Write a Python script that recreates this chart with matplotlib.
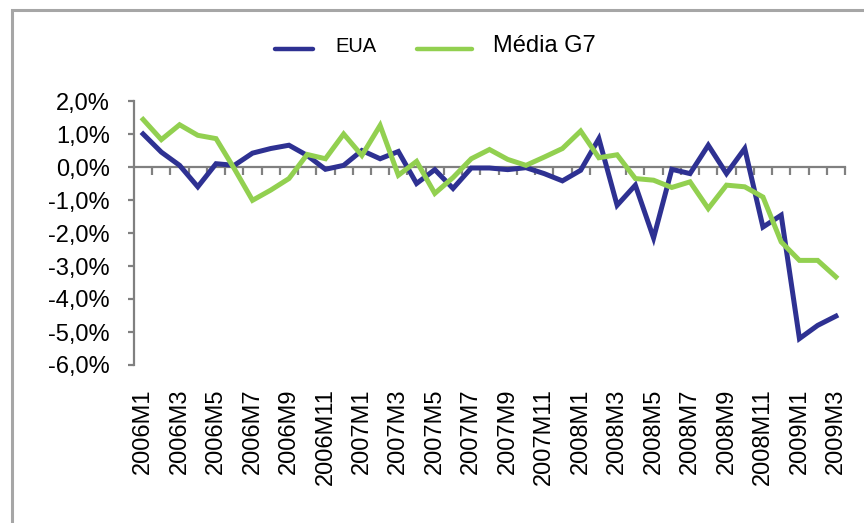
import matplotlib
matplotlib.use("Agg")
import matplotlib.pyplot as plt
from matplotlib.lines import Line2D
from matplotlib.patches import Rectangle

plt.rcParams['font.family'] = ['Liberation Sans', 'DejaVu Sans']

months = []
for y in (2006, 2007, 2008, 2009):
    for m in range(1, 13):
        months.append(f"{y}M{m}")
months = months[:39]  # 2006M1 .. 2009M3

eua = [1.00, 0.45, 0.05, -0.60, 0.10, 0.05, 0.42, 0.56, 0.66, 0.35,
       -0.07, 0.05, 0.50, 0.25, 0.47, -0.50, -0.08, -0.65, -0.03, -0.03,
       -0.08, -0.02, -0.20, -0.42, -0.10, 0.86, -1.16, -0.55, -2.15, -0.07,
       -0.20, 0.66, -0.20, 0.56, -1.82, -1.46, -5.20, -4.80, -4.52]
g7 = [1.44, 0.83, 1.28, 0.96, 0.86, -0.05, -1.01, -0.70, -0.35, 0.38,
      0.25, 1.00, 0.35, 1.26, -0.25, 0.17, -0.80, -0.32, 0.25, 0.53,
      0.23, 0.05, 0.30, 0.56, 1.09, 0.28, 0.37, -0.35, -0.40, -0.62,
      -0.45, -1.26, -0.55, -0.60, -0.91, -2.27, -2.83, -2.83, -3.33]
yticks = [-6, -5, -4, -3, -2, -1, 0, 1, 2]

W, H = 864, 523
fig = plt.figure(figsize=(W / 100, H / 100), dpi=100)

BLUE = "#2e3192"
GREEN = "#92d050"
GRAY = "#808080"

ax = fig.add_axes([134 / W, 1 - 365 / H, (845 - 134) / W, (365 - 101) / H])
x = list(range(len(months)))
ax.plot(x, eua, color=BLUE, lw=3.6, zorder=3, solid_joinstyle='miter')
ax.plot(x, g7, color=GREEN, lw=3.6, zorder=4, solid_joinstyle='miter')
ax.set_xlim(-0.5, len(months) - 0.5)
ax.set_ylim(-6, 2)

for s in ('top', 'right'):
    ax.spines[s].set_visible(False)
ax.spines['left'].set_color(GRAY)
ax.spines['left'].set_linewidth(1.6)
ax.spines['bottom'].set_position(('data', 0))
ax.spines['bottom'].set_color(GRAY)
ax.spines['bottom'].set_linewidth(1.6)

ax.set_yticks(yticks)
ax.set_yticklabels([f"{v:.1f}%".replace('.', ',') for v in yticks])
ax.tick_params(axis='y', direction='out', length=4.5, width=1.6, color=GRAY,
               labelsize=17, pad=13)
ax.set_xticks([i + 0.5 for i in x])
ax.tick_params(axis='x', direction='out', length=5.5, width=1.6, color=GRAY,
               labelbottom=False)

sec = ax.secondary_xaxis('bottom')
sec.set_xticks(x[::2])
sec.set_xticklabels(months[::2], rotation=90, fontsize=17)
sec.tick_params(length=0, pad=17)
sec.spines['bottom'].set_visible(False)

# outer frame (top and left edges visible)
fig.patches.append(Rectangle((11.5 / W, -0.1), 1.2, (1 - 10.5 / H) + 0.1,
                             transform=fig.transFigure, fill=False,
                             edgecolor="#a6a6a6", lw=2.2))

# legend
fig.add_artist(Line2D([275 / W, 313 / W], [1 - 49 / H, 1 - 49 / H],
                      color=BLUE, lw=3.2, solid_capstyle='round'))
fig.text(335 / W, 1 - 51.5 / H, "EUA", fontsize=14.5, va='baseline', ha='left')
fig.add_artist(Line2D([417 / W, 472 / W], [1 - 49 / H, 1 - 49 / H],
                      color=GREEN, lw=3.2, solid_capstyle='round'))
fig.text(493 / W, 1 - 51.5 / H, "Média G7", fontsize=17, va='baseline', ha='left')

fig.savefig("out.png", dpi=100)
